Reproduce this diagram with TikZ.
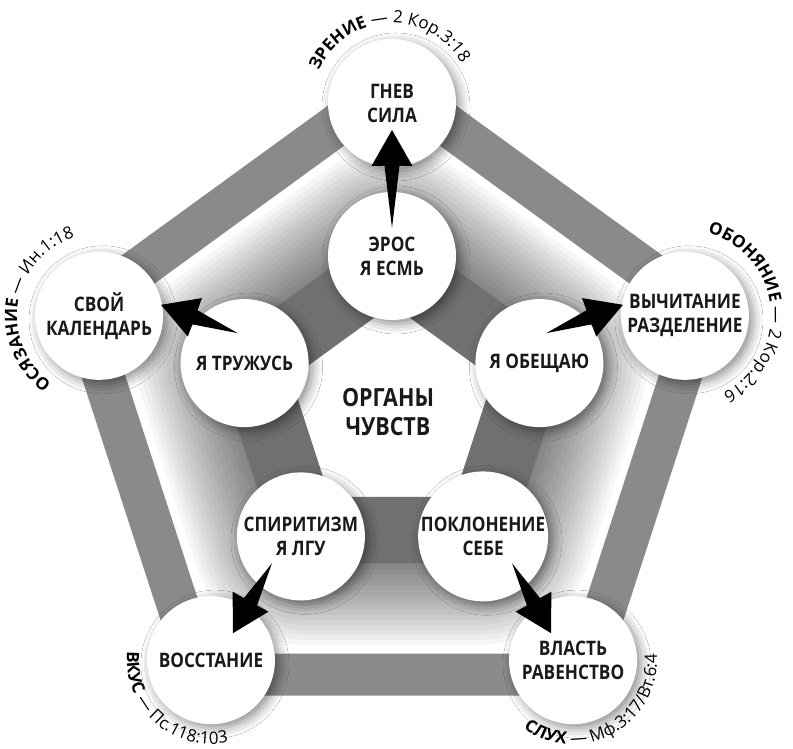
\documentclass[tikz,border=0pt]{standalone}
\usepackage{fontspec}
\setmainfont{Open Sans}
\newfontfamily\cfont[FakeStretch=0.86]{Open Sans}
\usetikzlibrary{calc,shadows.blur,decorations.text}
\definecolor{inband}{gray}{0.44}
\definecolor{outband}{gray}{0.54}
\newcommand\labB{\fontsize{17}{20}\selectfont\bfseries}
\newcommand\labR{\fontsize{17}{20}\selectfont\mdseries}
\tikzset{
  circ/.style={circle, fill=white, minimum size=#1, inner sep=0pt, align=center,
    text=black!90, font=\cfont\bfseries\fontsize{20}{24}\selectfont,
    blur shadow={shadow xshift=4pt, shadow yshift=-4pt, shadow blur radius=10pt, shadow opacity=45}},
  outc/.style={circ=128pt},
  innc/.style={circ=128pt},
  sensetext/.style={decorate, decoration={text along path, text align=center, text={#1}}}
}
\newcommand\darrow[2]{%
  \fill[black] let \p1=(#1), \p2=(#2), \n1={atan2(\y2-\y1,\x2-\x1)}, \n2={veclen(\x2-\x1,\y2-\y1)} in
    (\p1) -- ($(\p1)+(\n1:{\n2-36})+(\n1+90:7.5)$) -- ($(\p1)+(\n1:{\n2-36})+(\n1+90:20.5)$) -- (\p2)
    -- ($(\p1)+(\n1:{\n2-36})+(\n1-90:20.5)$) -- ($(\p1)+(\n1:{\n2-36})+(\n1-90:7.5)$) -- cycle;}
\begin{document}
\begin{tikzpicture}[x=1pt,y=1pt]
\useasboundingbox (0,0) rectangle (793,749);
\fill[white] (0,0) rectangle (793,749);
\begin{scope}[shift={(392,338)}]
\coordinate (C) at (0,0);
% soft shadow of inner band (ring only)
\begin{scope}[even odd rule]
  \clip (90:345) -- (18:345) -- (-54:345) -- (-126:345) -- (162:345) -- cycle
        (90:147) -- (18:147) -- (-54:147) -- (-126:147) -- (162:147) -- cycle;
  \foreach \w in {70,80,...,230}
    \draw[line width=\w pt, black, opacity=0.036, line join=round]
      (90:147) -- (18:147) -- (-54:147) -- (-126:147) -- (162:147) -- cycle;
\end{scope}
% bands
\draw[line width=42pt, outband, line join=miter]
  (90:326) -- (18:326) -- (-54:326) -- (-126:326) -- (162:326) -- cycle;
\draw[line width=66pt, inband, line join=miter]
  (90:147) -- (18:147) -- (-54:147) -- (-126:147) -- (162:147) -- cycle;
% outer circles
\node[outc] (o1) at (90:308) {ГНЕВ\\СИЛА};
\node[outc] (o2) at (18:308) {ВЫЧИТАНИЕ\\РАЗДЕЛЕНИЕ};
\node[outc] (o3) at (-54:308) {ВЛАСТЬ\\РАВЕНСТВО};
\node[outc] (o4) at (-126:308) {ВОССТАНИЕ};
\node[outc] (o5) at (162:308) {СВОЙ\\КАЛЕНДАРЬ};
% inner circles
\node[innc] (i1) at (90:155) {ЭРОС\\Я ЕСМЬ};
\node[innc] (i2) at (18:155) {Я ОБЕЩАЮ};
\node[innc] (i3) at (-54:155) {ПОКЛОНЕНИЕ\\СЕБЕ};
\node[innc] (i4) at (-126:155) {СПИРИТИЗМ\\Я ЛГУ};
\node[innc] (i5) at (162:155) {Я ТРУЖУСЬ};
\node[align=center, font=\cfont\bfseries\fontsize{25}{29}\selectfont, text=black!90] (ctr) at (-4,-1) {ОРГАНЫ\\ЧУВСТВ};
% arrow ends
\coordinate (t1) at ($(i1)+(0,28)$);   \coordinate (h1) at ($(o1)+(0,-27)$);
\coordinate (t2) at ($(i2)+(7,30)$);   \coordinate (h2) at ($(o2)+(-62,11)$);
\coordinate (t3) at ($(i3)+(29,-27)$); \coordinate (h3) at ($(o3)+(-22,27)$);
\coordinate (t4) at ($(i4)+(-29,-27)$);\coordinate (h4) at ($(o4)+(22,27)$);
\coordinate (t5) at ($(i5)+(-7,30)$);  \coordinate (h5) at ($(o5)+(62,11)$);
\darrow{t1}{h1}
\darrow{t2}{h2}
\darrow{t3}{h3}
\darrow{t4}{h4}
\darrow{t5}{h5}
% sense labels
\path[sensetext={|\labB|ЗРЕНИЕ |\labR|— 2 Кор.3:18}]
  ($(o1)+(183:80)$) arc[start angle=183, end angle=3, radius=80];
\path[sensetext={|\labB|ОБОНЯНИЕ |\labR|— 2 Кор.2:16}]
  ($(o2)+(95:86)$) arc[start angle=95, end angle=-84, radius=86];
\path[sensetext={|\labB|ОСЯЗАНИЕ |\labR|— Ин.1:18}]
  ($(o5)+(261:82)$) arc[start angle=261, end angle=81, radius=82];
\path[sensetext={|\labB|ВКУС |\labR|— Пс.118:103}]
  ($(o4)+(138:84)$) arc[start angle=138, end angle=318, radius=84];
\path[sensetext={|\labB|СЛУХ |\labR|— Мф.3:17/Вт.6:4}]
  ($(o3)+(209:84)$) arc[start angle=209, end angle=389, radius=84];
\end{scope}
\end{tikzpicture}
\end{document}
